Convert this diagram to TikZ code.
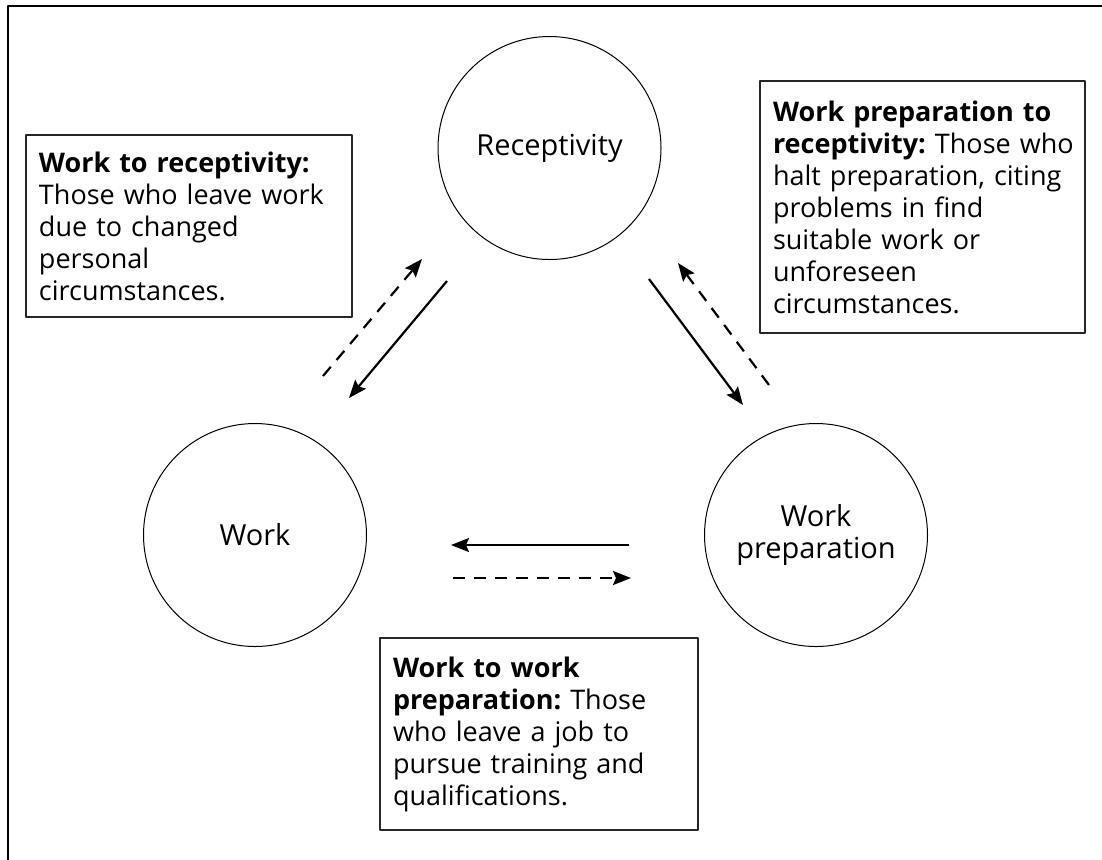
\documentclass[tikz,border=0pt]{standalone}
\usepackage{fontspec}
\setmainfont{Open Sans}
\frenchspacing
\usetikzlibrary{arrows.meta}
\tikzset{
  state/.style={draw,circle,line width=0.5pt,minimum size=111.5pt,inner sep=0pt,align=center,font=\fontsize{14.5}{16}\selectfont},
  note/.style={draw=black!85,line width=0.7pt,inner xsep=6.5pt,inner ysep=0pt,align=left,font=\fontsize{13.5}{16}\selectfont},
  flow/.style={line width=1.1pt,-{Stealth[length=9pt,width=7pt,inset=1.5pt]}},
  back/.style={flow,dash pattern=on 6pt off 4.5pt},
}
\begin{document}
\begin{tikzpicture}[x=0.5pt,y=-0.5pt,line join=round]
	\useasboundingbox (0,0) rectangle (1102,859);
	\draw[line width=1.4pt] (8,870) |- (1110,6);
	% states
	\node[state] (rec) at (549.5,148) {Receptivity};
	\node[state] (work) at (255,535) {Work};
	\node[state] (prep) at (816,535) {Work\\preparation};
	% notes
	\node[note,text width=150pt,minimum width=163pt,minimum height=91pt] (wr) at (189,226) {\mbox{\textbf{Work to receptivity:}}\\\mbox{Those who leave work}\\due to changed\\personal\\circumstances.};
	\node[note,text width=149.5pt,minimum width=162.5pt,minimum height=126pt] (pr) at (922.5,207) {\mbox{\textbf{Work preparation to}}\\\mbox{\textbf{receptivity:} Those who}\\\mbox{halt preparation, citing}\\problems in find\\suitable work or\\unforeseen\\circumstances.};
	\node[note,text width=146pt,minimum width=159pt,minimum height=96pt] (wp) at (539,734) {\textbf{Work to work}\\\mbox{\textbf{preparation:} Those}\\\mbox{who leave a job to}\\\mbox{pursue training and}\\qualifications.};
	% flows
	\coordinate (wr-a) at (323,376); \coordinate (wr-b) at (422,259);
	\coordinate (rw-a) at (447,281); \coordinate (rw-b) at (349,398);
	\coordinate (rp-a) at (649,279); \coordinate (rp-b) at (743,405);
	\coordinate (pr-a) at (769,385); \coordinate (pr-b) at (678,263);
	\coordinate (pw-a) at (629,545); \coordinate (pw-b) at (451,545);
	\coordinate (wp-a) at (453,578); \coordinate (wp-b) at (631,578);
	\draw[back] (wr-a) -- (wr-b);
	\draw[flow] (rw-a) -- (rw-b);
	\draw[flow] (rp-a) -- (rp-b);
	\draw[back] (pr-a) -- (pr-b);
	\draw[flow] (pw-a) -- (pw-b);
	\draw[back] (wp-a) -- (wp-b);
\end{tikzpicture}
\end{document}
